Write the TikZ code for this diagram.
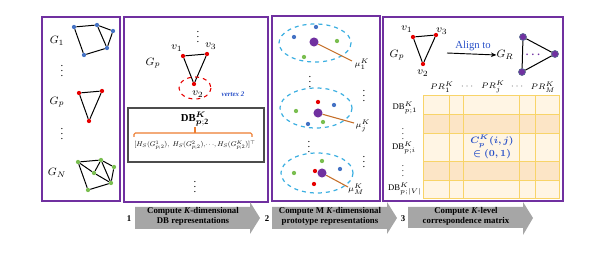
\documentclass[tikz,border=0pt]{standalone}
\usepackage{fontspec}
\setmainfont{Liberation Serif}
\usepackage{amsmath}
\usepackage{bm}
\usepackage{graphicx}
\usetikzlibrary{arrows.meta}
\definecolor{fpurple}{RGB}{112,48,160}
\definecolor{nblue}{RGB}{68,114,196}
\definecolor{nred}{RGB}{230,0,0}
\definecolor{ngreen}{RGB}{122,190,80}
\definecolor{dpurple}{RGB}{112,48,160}
\definecolor{lineorange}{RGB}{197,110,40}
\definecolor{braceorange}{RGB}{237,125,49}
\definecolor{cyanline}{RGB}{60,175,225}
\definecolor{arrowgray}{RGB}{166,166,166}
\definecolor{tlight}{RGB}{255,245,228}
\definecolor{tdark}{RGB}{252,229,198}
\definecolor{tgrid}{RGB}{248,212,105}
\definecolor{txtblue}{RGB}{40,80,200}
\definecolor{nodeedge}{RGB}{80,100,140}
\begin{document}
\begin{tikzpicture}[x=0.75pt,y=-0.75pt,font=\fontsize{8}{9}\selectfont,
 panel/.style={draw=fpurple,line width=1.3pt},
 dot/.style={circle,inner sep=0pt,minimum size=3.2pt},
 bdot/.style={dot,fill=nblue}, rdot/.style={dot,fill=nred}, gdot/.style={dot,fill=ngreen},
 bigdot/.style={circle,inner sep=0pt,minimum size=6.8pt,fill=dpurple},
 rdotp/.style={circle,inner sep=0pt,minimum size=5.2pt,fill=dpurple,draw=nodeedge,line width=0.5pt},
 gedge/.style={line width=0.75pt},
 clus/.style={draw=cyanline,dashed,line width=0.9pt},
 olink/.style={draw=lineorange,line width=0.8pt},
 stepflow/.style={fill=arrowgray,draw=none},
 lbl/.style={inner sep=0pt},
 small/.style={font=\fontsize{6.5}{7.5}\selectfont},
 steptext/.style={font=\fontsize{6.6}{7.8}\selectfont\bfseries,align=center,inner sep=0pt}]
\useasboundingbox (0,0) rectangle (607,267);

% ---------- panels ----------
\draw[panel] (42,17) rectangle (120,201);
\draw[panel] (124,17) rectangle (268,202);
\draw[panel] (272,16) rectangle (380,201);
\draw[panel] (383,17) rectangle (563,201);

% ---------- panel 1 ----------
\node[lbl] (lg1) at (57,41) {$G_1$};
\node[bdot] (a1) at (74,27) {};
\node[bdot] (a2) at (97,25) {};
\node[bdot] (a3) at (113,31) {};
\node[bdot] (a4) at (107,48) {};
\node[bdot] (a5) at (84,55) {};
\draw[gedge] (a1)--(a2)--(a3)--(a4)--(a5)--(a1) (a2)--(a4);
\node[lbl] (vd1) at (62,67) {$\vdots$};
\node[lbl] (lgp) at (57,102) {$G_p$};
\node[rdot] (b1) at (79,93) {};
\node[rdot] (b2) at (102,91) {};
\node[rdot] (b3) at (89,121) {};
\draw[gedge] (b1)--(b2)--(b3)--(b1);
\node[lbl] (vd2) at (62,130) {$\vdots$};
\node[lbl] (lgn) at (57,173) {$G_N$};
\node[gdot] (n1) at (78,162) {};
\node[gdot] (n2) at (101,160) {};
\node[gdot] (n3) at (114,167) {};
\node[gdot] (n4) at (111,183) {};
\node[gdot] (n5) at (94,173) {};
\node[gdot] (n6) at (88,190) {};
\draw[gedge] (n1)--(n2)--(n3)--(n4)--(n6)--(n1) (n1)--(n5)--(n4) (n5)--(n2)--(n4);

% ---------- panel 2 ----------
\node[lbl] (vd3) at (198,33) {$\vdots$};
\node[lbl] (lgp2) at (153,63) {$G_p$};
\node[rdot] (c1) at (183,56) {};
\node[rdot] (c3) at (207,54) {};
\node[rdot] (c2) at (194,84) {};
\draw[gedge] (c1)--(c3)--(c2)--(c1);
\node[lbl] (lv1) at (177,48) {$v_1$};
\node[lbl] (lv3) at (211,46) {$v_3$};
\node[lbl] (lv2) at (198,94) {$v_2$};
\draw[draw=nred,dashed,line width=0.8pt] (195,88) ellipse [x radius=16,y radius=11];
\node[lbl,text=txtblue,font=\fontsize{5.2}{6}\selectfont\itshape\bfseries] (lvx) at (233,94) {vertex 2};
\node[draw=black!70,line width=1.2pt,minimum width=102pt,minimum height=40.5pt,inner sep=0pt] (dbbox) at (196,135) {};
\node[lbl] (dbl) at (195,119) {$\mathbf{DB}^{\bm{K}}_{\bm{p};\mathbf{2}}$};
\draw[draw=braceorange,line width=0.8pt,rounded corners=1pt] (134,137) -- (134,133) -- (252,133) -- (252,137);
\draw[draw=braceorange,line width=0.8pt] (195,133) -- (195,127);
\node[lbl] (form) at (195,145) {\resizebox{91pt}{!}{$[H_S(G^1_{p;2}),\;H_S(G^2_{p;2}),\!\cdots\!,H_S(G^K_{p;2})]^{\top}$}};
\node[lbl] (vd4) at (195,183) {$\vdots$};

% ---------- panel 3 ----------
\draw[clus] (315,43) ellipse [x radius=36,y radius=19];
\node[bigdot] (m1) at (314,42) {};
\node[bdot] (p11) at (316,27) {};
\node[bdot] (p12) at (294,37) {};
\node[gdot] (p13) at (337,41) {};
\node[gdot] (p14) at (304,57) {};
\coordinate (e1) at (352,61);
\draw[olink] (m1) -- (e1);
\node[lbl,small] (mu1) at (362,64) {$\mu^K_1$};
\node[lbl] (vd5) at (310,78) {$\vdots$};
\node[lbl] (vd6) at (364,92) {$\vdots$};

\draw[clus] (316,108) ellipse [x radius=36,y radius=20];
\node[rdot] (p21) at (318,102) {};
\node[bdot] (p22) at (334,105) {};
\node[gdot] (p23) at (296,111) {};
\node[bigdot] (m2) at (318,113) {};
\node[bdot] (p24) at (308,124) {};
\node[gdot] (p25) at (323,122) {};
\coordinate (e2) at (354,123);
\draw[olink] (m2) -- (e2);
\node[lbl,small] (mu2) at (363,126) {$\mu^K_j$};
\node[lbl] (vd7) at (309,143) {$\vdots$};
\node[lbl] (vd8) at (364,158) {$\vdots$};

\draw[clus] (317,173) ellipse [x radius=36,y radius=20];
\node[gdot] (p31) at (322,161) {};
\node[rdot] (p32) at (315,171) {};
\node[bigdot] (m3) at (322,173) {};
\node[bdot] (p33) at (340,169) {};
\node[gdot] (p34) at (294,173) {};
\node[rdot] (p35) at (314,184) {};
\coordinate (e3) at (348,187);
\draw[olink] (m3) -- (e3);
\node[lbl,small] (mu3) at (356,189) {$\mu^K_M$};

% ---------- panel 4 ----------
\node[lbl] (lgp3) at (397,55) {$G_p$};
\node[rdot] (q1) at (413,37) {};
\node[rdot] (q3) at (436,35) {};
\node[rdot] (q2) at (423,64) {};
\draw[gedge] (q1)--(q3)--(q2)--(q1);
\node[lbl] (lq1) at (407,29) {$v_1$};
\node[lbl] (lq3) at (442,31) {$v_3$};
\node[lbl] (lq2) at (423,73) {$v_2$};
\node[lbl,text=txtblue] (align) at (473,46) {Align to};
\node[lbl] (lgr) at (505,55) {$G_R$};
\coordinate (al0) at (447,53);
\draw[-{Stealth[length=4pt,width=3.5pt]},line width=0.7pt] (al0) -- (lgr.west);
\node[rdotp] (r1) at (523,37) {};
\node[rdotp] (r2) at (555,54) {};
\node[rdotp] (r3) at (522,72) {};
\draw[gedge] (r1)--(r2)--(r3)--(r1);
\node[lbl,text=dpurple] (rdots) at (534,55) {$\bm{\cdots}$};

% table
\fill[tlight] (423,95) rectangle (559,114);
\fill[tdark] (423,114) rectangle (559,133);
\fill[tlight] (423,133) rectangle (559,161);
\fill[tdark] (423,161) rectangle (559,180);
\fill[tlight] (423,180) rectangle (559,198);
\draw[tgrid,line width=0.6pt] (423,95) rectangle (559,198)
  (449,95)--(449,198) (463,95)--(463,198) (519,95)--(519,198) (535,95)--(535,198)
  (423,114)--(559,114) (423,133)--(559,133) (423,161)--(559,161) (423,180)--(559,180);
\node[lbl,small] (pr1) at (442,87) {$PR^K_1$};
\node[lbl,small] (hd1) at (468,87) {$\cdots$};
\node[lbl,small] (prj) at (493,87) {$PR^K_j$};
\node[lbl,small] (hd2) at (518,87) {$\cdots$};
\node[lbl,small] (prm) at (543,87) {$PR^K_M$};
\node[lbl,small] (db1) at (405,108) {DB$^K_{p;1}$};
\node[lbl,small] (vd9) at (403,130) {$\vdots$};
\node[lbl,small] (dbi) at (404,148) {DB$^K_{p;i}$};
\node[lbl,small] (vd10) at (403,167) {$\vdots$};
\node[lbl,small] (dbv) at (405,189) {DB$^K_{p;|V|}$};
\node[lbl,text=txtblue,align=center,font=\fontsize{7}{9.5}\selectfont] (cij) at (492,147) {$\bm{C^K_p(i,j)}$\\$\bm{\in(0,1)}$};

% ---------- step arrows ----------
\path[stepflow] (135,207) -- (250,207) -- (250,202) -- (260,218) -- (250,234) -- (250,229) -- (135,229) -- cycle;
\path[stepflow] (272,207) -- (387,207) -- (387,202) -- (397,218) -- (387,234) -- (387,229) -- (272,229) -- cycle;
\path[stepflow] (408,207) -- (523,207) -- (523,202) -- (533,218) -- (523,235) -- (523,228) -- (408,228) -- cycle;
\node[steptext] (s1) at (193,216.5) {Compute \textit{K}-dimensional\\DB representations};
\node[steptext] (s2) at (330,216.5) {Compute M \textit{K}-dimensional\\prototype representations};
\node[steptext] (s3) at (466,216.5) {Compute \textit{K}-level\\correspondence matrix};
\node[steptext] (n1l) at (129,219) {1};
\node[steptext] (n2l) at (267,219) {2};
\node[steptext] (n3l) at (403,219) {3};
\end{tikzpicture}
\end{document}
